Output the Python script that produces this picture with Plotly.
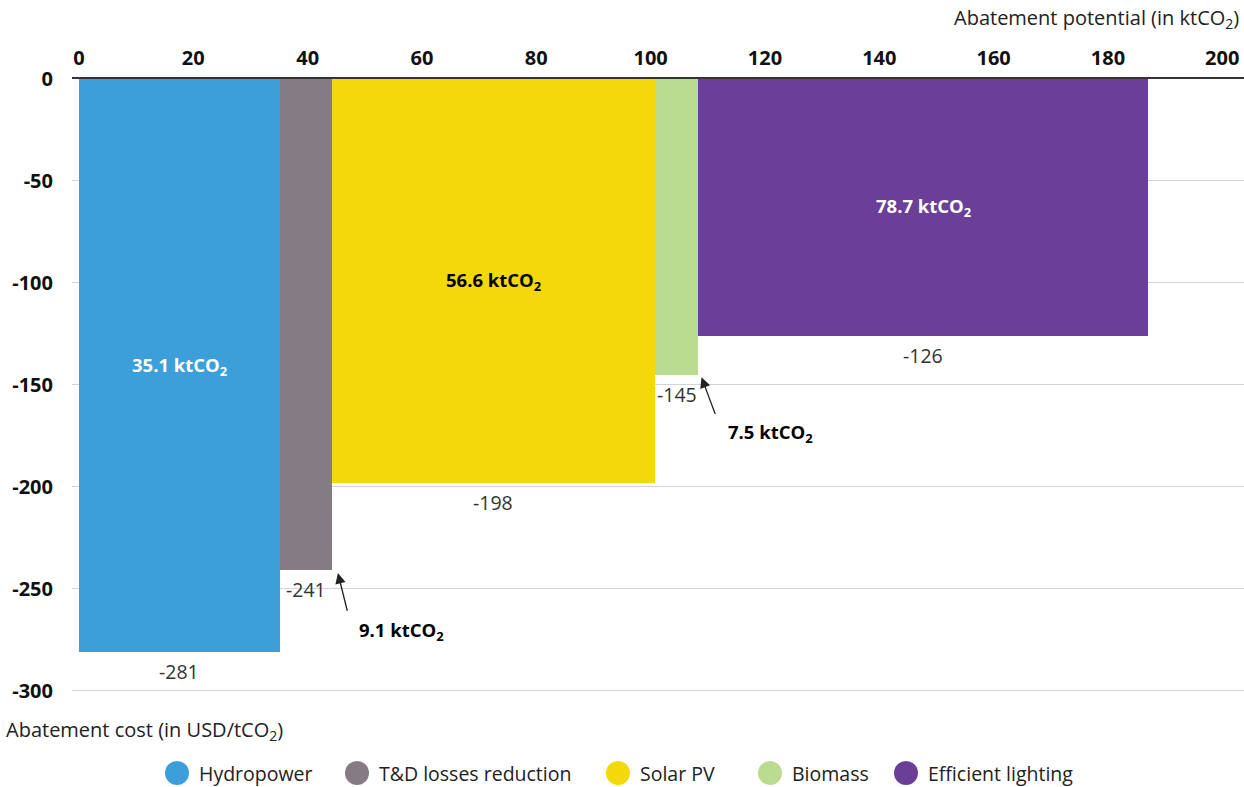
import plotly.graph_objects as go

categories = ["Hydropower", "T&D losses reduction", "Solar PV", "Biomass", "Efficient lighting"]
potential = [35.1, 9.1, 56.6, 7.5, 78.7]          # ktCO2 (bar widths)
cost = [-281, -241, -198, -145, -126]              # USD/tCO2 (bar heights)
colors = ["#3D9FD9", "#857C83", "#F4D80A", "#BADC8F", "#6B3F98"]
x_ticks = [0, 20, 40, 60, 80, 100, 120, 140, 160, 180, 200]
y_ticks = [0, -50, -100, -150, -200, -250, -300]

FONT = "Open Sans"
W, H = 1244, 787
ML, MR, MT, MB = 72, 0, 79, 95
PW, PH = W - ML - MR, H - MT - MB

starts = []
s = 0
for w in potential:
    starts.append(s)
    s += w
centers = [st + w / 2 for st, w in zip(starts, potential)]

fig = go.Figure()
for i, cat in enumerate(categories):
    fig.add_trace(go.Bar(
        x=[centers[i]], y=[cost[i]], width=[potential[i]], base=0, name=cat,
        marker=dict(color=colors[i], line=dict(width=0)),
        showlegend=False, hoverinfo="skip",
    ))

# cost labels below each bar
for i in range(len(categories)):
    fig.add_annotation(x=centers[i], y=cost[i], text=str(cost[i]), showarrow=False,
                       yanchor="top", yshift=-4,
                       font=dict(family=FONT, size=19.5, color="#333333"))

# potential labels inside the large bars
inside = {0: "white", 2: "black", 4: "white"}
for i, col in inside.items():
    fig.add_annotation(x=centers[i], y=cost[i] / 2,
                       text=f"<b>{potential[i]} ktCO<sub>2</sub></b>", showarrow=False,
                       font=dict(family=FONT, size=18.5, color=col))

# callouts for narrow bars
for i, (hx, hy, tx, ty, lx, ly) in {
    1: (45.3, -242.3, 47.0, -261.5, 56.5, -270.5),
    3: (108.9, -146.3, 111.4, -165.0, 120.9, -173.5),
}.items():
    fig.add_annotation(x=hx, y=hy, ax=tx, ay=ty, axref="x", ayref="y", text="",
                       showarrow=True, arrowhead=2, arrowsize=1.6, arrowwidth=1.3,
                       arrowcolor="#222222")
    fig.add_annotation(x=lx, y=ly, text=f"<b>{potential[i]} ktCO<sub>2</sub></b>",
                       showarrow=False, font=dict(family=FONT, size=18.5, color="black"))

# axis titles
fig.add_annotation(xref="paper", yref="paper", x=1.0, y=1.0, yshift=61, xshift=-3,
                   xanchor="right", yanchor="middle", showarrow=False,
                   text="Abatement potential (in ktCO<sub>2</sub>)",
                   font=dict(family=FONT, size=20, color="#222222"))
fig.add_annotation(xref="paper", yref="paper", x=0, y=0, xshift=-68, yshift=-38,
                   xanchor="left", yanchor="middle", showarrow=False,
                   text="Abatement cost (in USD/tCO<sub>2</sub>)",
                   font=dict(family=FONT, size=20, color="#222222"))

# custom legend with large circular markers
leg_cx = [177, 357, 618, 770, 906]
leg_y = 773
r = 12
for i, cat in enumerate(categories):
    cx = leg_cx[i]
    fig.add_shape(type="circle", xref="paper", yref="paper",
                  x0=(cx - r - ML) / PW, x1=(cx + r - ML) / PW,
                  y0=(H - MB - (leg_y + r)) / PH, y1=(H - MB - (leg_y - r)) / PH,
                  fillcolor=colors[i], line=dict(width=0))
    fig.add_annotation(xref="paper", yref="paper",
                       x=(cx + r + 8 - ML) / PW, y=(H - MB - leg_y) / PH,
                       xanchor="left", yanchor="middle", showarrow=False, text=cat,
                       font=dict(family=FONT, size=19.5, color="#222222"))

fig.update_layout(
    width=W, height=H,
    margin=dict(l=ML, r=MR, t=MT, b=MB, autoexpand=False),
    plot_bgcolor="white", paper_bgcolor="white",
    bargap=0, showlegend=False,
    font=dict(family=FONT, size=18, color="#111111"),
    xaxis=dict(side="top", range=[-1.22, 203.8], tickvals=x_ticks,
               ticktext=[f"<b>{v}</b>" for v in x_ticks],
               showgrid=False, zeroline=False, showline=True, automargin=False,
               linecolor="#333333", linewidth=2, ticks="", ticklabelstandoff=4,
               tickfont=dict(family=FONT, size=20, color="#111111")),
    yaxis=dict(range=[-300.6, 0], tickvals=y_ticks,
               ticktext=[f"<b>{v}</b>" for v in y_ticks],
               showgrid=True, gridcolor="#D4D4D4", gridwidth=1, zeroline=False,
               automargin=False, ticks="", ticklabelstandoff=18,
               tickfont=dict(family=FONT, size=20, color="#111111")),
)

fig.write_html("out.html", config={"displayModeBar": False},
               post_script="document.body.style.margin='0';document.body.style.overflow='hidden';")
